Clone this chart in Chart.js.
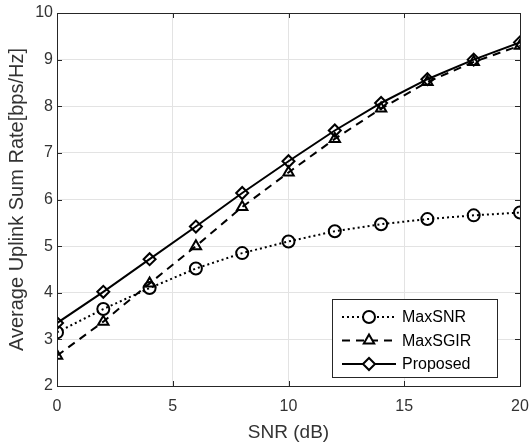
<!DOCTYPE html>
<html>
<head>
<meta charset="utf-8">
<script src="https://cdn.jsdelivr.net/npm/chart.js@4"></script>
<style>
  html, body { margin: 0; padding: 0; background: #fff; }
  #wrap { width: 530px; height: 448px; }
</style>
</head>
<body>
<div id="wrap"><canvas id="chart" width="530" height="448"></canvas></div>
<script>
// valores
const snr = [0, 2, 4, 6, 8, 10, 12, 14, 16, 18, 20];
const maxSNR = [3.15, 3.65, 4.1, 4.52, 4.85, 5.1, 5.32, 5.47, 5.58, 5.66, 5.72];
const maxSGIR = [2.65, 3.38, 4.2, 5.0, 5.84, 6.58, 7.3, 7.95, 8.52, 8.95, 9.3];
const proposed = [3.35, 4.02, 4.72, 5.42, 6.14, 6.82, 7.48, 8.07, 8.58, 9.0, 9.37];
const xTicks = [0, 5, 10, 15, 20];
const yTicks = [2, 3, 4, 5, 6, 7, 8, 9, 10];

const toXY = (arr) => arr.map((v, i) => ({ x: snr[i], y: v }));

const serie = (label, data, style, dash) => ({
  label: label,
  data: toXY(data),
  borderColor: '#000',
  backgroundColor: 'transparent',
  borderWidth: 2,
  borderDash: dash,
  pointStyle: style,
  pointRadius: 6,
  pointBorderWidth: 2,
  pointBorderColor: '#000',
  pointBackgroundColor: 'transparent',
  tension: 0
});

// caja completa y marcas hacia dentro (estilo matlab)
const boxPlugin = {
  id: 'box',
  afterDatasetsDraw(chart) {
    const { ctx, chartArea: a, scales } = chart;
    ctx.save();
    ctx.strokeStyle = '#262626';
    ctx.lineWidth = 1;
    ctx.strokeRect(a.left + 0.5, a.top + 0.5, a.right - a.left, a.bottom - a.top);
    ctx.beginPath();
    xTicks.forEach(v => {
      const px = Math.round(scales.x.getPixelForValue(v)) + 0.5;
      ctx.moveTo(px, a.bottom); ctx.lineTo(px, a.bottom - 5);
      ctx.moveTo(px, a.top); ctx.lineTo(px, a.top + 5);
    });
    yTicks.forEach(v => {
      const py = Math.round(scales.y.getPixelForValue(v)) + 0.5;
      ctx.moveTo(a.left, py); ctx.lineTo(a.left + 5, py);
      ctx.moveTo(a.right, py); ctx.lineTo(a.right - 5, py);
    });
    ctx.stroke();
    ctx.restore();
  }
};

// leyenda dentro del grafico, abajo a la derecha
const legendPlugin = {
  id: 'innerLegend',
  afterDraw(chart) {
    const { ctx } = chart;
    const x0 = 332, y0 = 299, w = 165, h = 78;
    ctx.save();
    ctx.fillStyle = '#fff';
    ctx.fillRect(x0, y0, w, h);
    ctx.strokeStyle = '#262626';
    ctx.lineWidth = 1;
    ctx.strokeRect(x0 + 0.5, y0 + 0.5, w, h);
    ctx.font = '16px "Liberation Sans", Arial, sans-serif';
    ctx.textBaseline = 'middle';
    chart.data.datasets.forEach((ds, i) => {
      const cy = y0 + 18 + i * 23.5;
      ctx.strokeStyle = '#000';
      ctx.lineWidth = 2;
      ctx.setLineDash(ds.borderDash);
      ctx.beginPath();
      ctx.moveTo(x0 + 10, cy);
      ctx.lineTo(x0 + 64, cy);
      ctx.stroke();
      ctx.setLineDash([]);
      ctx.fillStyle = '#fff';
      Chart.helpers.drawPoint(ctx, { pointStyle: ds.pointStyle, radius: 6, borderWidth: 2 }, x0 + 37, cy);
      ctx.fillStyle = '#000';
      ctx.fillText(ds.label, x0 + 70, cy + 1);
    });
    ctx.restore();
  }
};

new Chart(document.getElementById('chart'), {
  type: 'line',
  data: {
    datasets: [
      serie('MaxSNR', maxSNR, 'circle', [2, 3]),
      serie('MaxSGIR', maxSGIR, 'triangle', [8, 6]),
      serie('Proposed', proposed, 'rectRot', [])
    ]
  },
  options: {
    responsive: false,
    animation: false,
    layout: { padding: { top: 13, right: 10, left: 0, bottom: 0 } },
    plugins: { legend: { display: false }, tooltip: { enabled: false } },
    scales: {
      x: {
        type: 'linear',
        min: 0, max: 20,
        afterBuildTicks: (s) => { s.ticks = xTicks.map(v => ({ value: v })); },
        afterFit: (s) => { s.height = 62; s.paddingLeft = 0; s.paddingRight = 0; },
        grid: { color: '#e3e3e3', drawTicks: false },
        border: { color: '#262626' },
        ticks: { color: '#333', padding: 11, font: { family: 'Liberation Sans', size: 16 } },
        title: { display: true, text: 'SNR (dB)', color: '#333', padding: { top: 11 }, font: { family: 'Liberation Sans', size: 19 } }
      },
      y: {
        min: 2, max: 10,
        afterBuildTicks: (s) => { s.ticks = yTicks.map(v => ({ value: v })); },
        afterFit: (s) => { s.width = 57; s.paddingTop = 0; s.paddingBottom = 0; },
        grid: { color: '#e3e3e3', drawTicks: false },
        border: { color: '#262626' },
        ticks: { color: '#333', padding: 4, font: { family: 'Liberation Sans', size: 16 } },
        title: { display: true, text: 'Average Uplink Sum Rate[bps/Hz]', color: '#333', padding: { top: 5, bottom: 0 }, font: { family: 'Liberation Sans', size: 20 } }
      }
    }
  },
  plugins: [boxPlugin, legendPlugin]
});
</script>
</body>
</html>
